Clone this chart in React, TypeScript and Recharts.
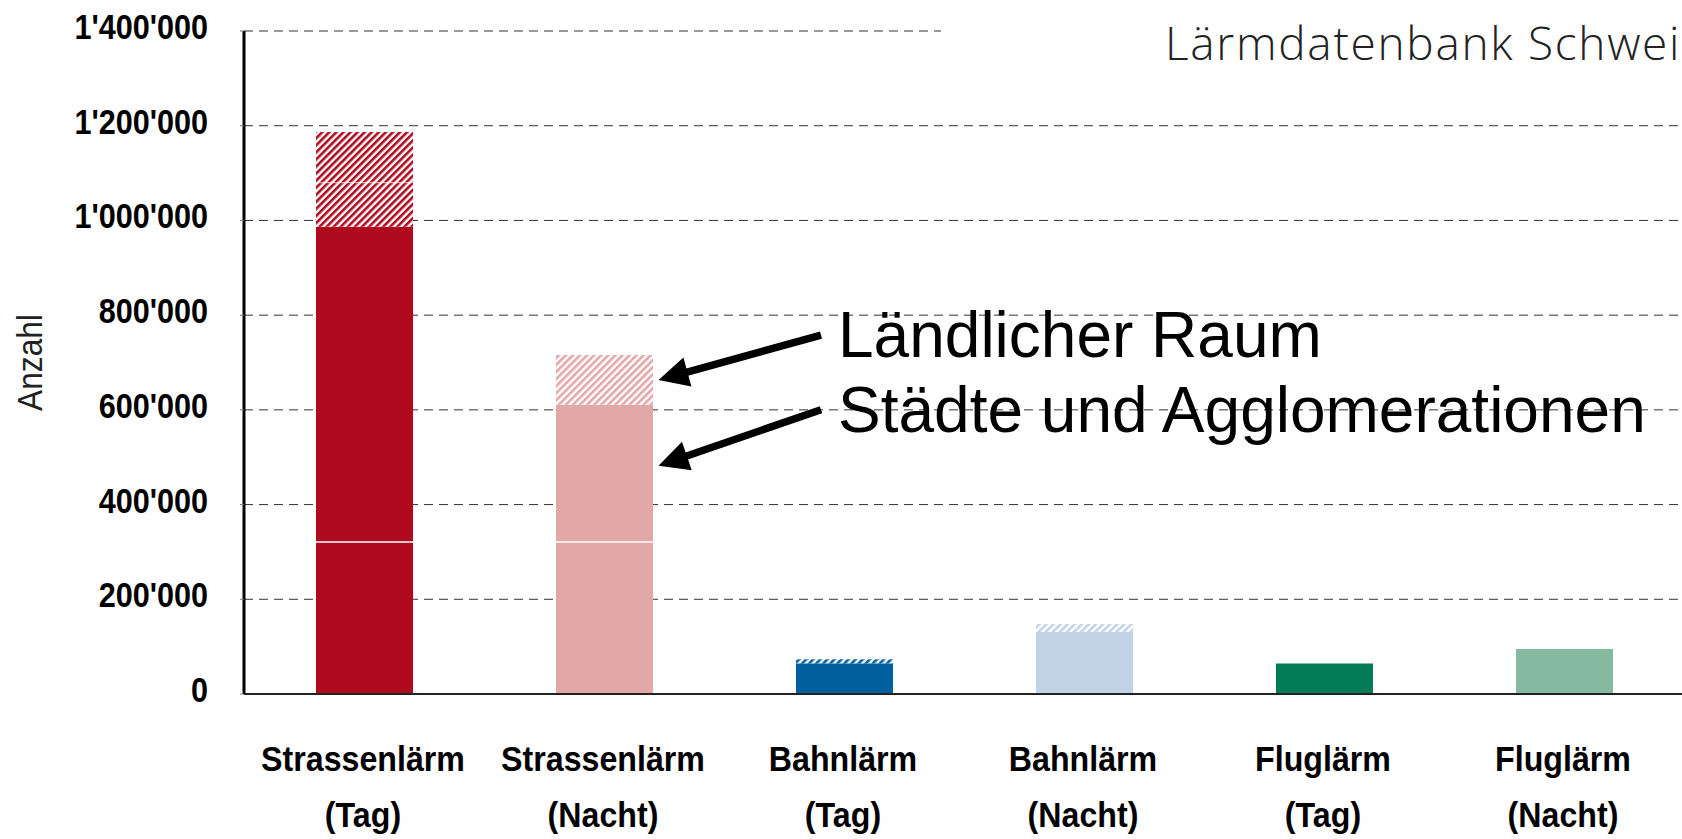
import React from 'react';
import { BarChart, Bar, XAxis, YAxis, CartesianGrid } from 'recharts';

// ---------- data ----------
const categories = [
  'Strassenlärm (Tag)',
  'Strassenlärm (Nacht)',
  'Bahnlärm (Tag)',
  'Bahnlärm (Nacht)',
  'Fluglärm (Tag)',
  'Fluglärm (Nacht)',
];
const labelLine1 = ['Strassenlärm', 'Strassenlärm', 'Bahnlärm', 'Bahnlärm', 'Fluglärm', 'Fluglärm'];
const labelLine2 = ['(Tag)', '(Nacht)', '(Tag)', '(Nacht)', '(Tag)', '(Nacht)'];

// Städte und Agglomerationen (solid), split in two parts
const staedteUnten = [321000, 321000, 64800, 130900, 64400, 95000];
const staedteOben = [665800, 289900, 0, 0, 0, 0];
// Ländlicher Raum (hatched), split in two parts
const laendlichUnten = [92900, 105000, 8500, 16900, 0, 0];
const laendlichOben = [107100, 0, 0, 0, 0, 0];

const yTicks = [0, 200000, 400000, 600000, 800000, 1000000, 1200000, 1400000];
const barColors = ['#AF0A1E', '#E1A8A7', '#00609E', '#C3D3E7', '#037B55', '#85BAA1'];

const titleText = 'Lärmdatenbank Schweiz';
const yAxisTitle = 'Anzahl';
const annotationLabels = ['Ländlicher Raum', 'Städte und Agglomerationen'];
const annotationTargets = [663000, 482000];

const data = categories.map((name, i) => ({
  name,
  staedteUnten: staedteUnten[i],
  staedteOben: staedteOben[i],
  laendlichUnten: laendlichUnten[i],
  laendlichOben: laendlichOben[i],
}));

// ---------- layout ----------
const CHART_W = 1700;
const CHART_H = 839;
const MARGIN = { top: 31, right: 16, bottom: 0, left: 0 };
const YAXIS_W = 244;
const XAXIS_H = 145;
const BAR_SIZE = 97;
const Y_MAX = 1400000;
const PLOT_LEFT = MARGIN.left + YAXIS_W;
const PLOT_TOP = MARGIN.top;
const PLOT_W = CHART_W - MARGIN.right - PLOT_LEFT;
const PLOT_H = CHART_H - MARGIN.top - MARGIN.bottom - XAXIS_H;
const BAND = PLOT_W / categories.length;
const yOf = (v: number) => PLOT_TOP + (1 - v / Y_MAX) * PLOT_H;

const ARIAL = "'Liberation Sans', Arial, sans-serif";

const fmt = (v: number) => String(v).replace(/\B(?=(\d{3})+(?!\d))/g, "'");

const YTick = (props: any) => {
  const { x, y, payload } = props;
  return (
    <text
      transform={`translate(${x}, ${y + 8}) scale(0.85, 1)`}
      textAnchor="end"
      fontFamily={ARIAL}
      fontWeight="bold"
      fontSize={36}
      fill="#000"
    >
      {fmt(payload.value)}
    </text>
  );
};

const XTick = (props: any) => {
  const { x, y, payload } = props;
  const i = categories.indexOf(payload.value);
  const common = {
    textAnchor: 'middle' as const,
    fontFamily: ARIAL,
    fontWeight: 'bold' as const,
    fontSize: 35,
    fill: '#000',
  };
  return (
    <g>
      <text transform={`translate(${x - 1}, ${y + 77}) scale(0.92, 1)`} {...common}>{labelLine1[i]}</text>
      <text transform={`translate(${x - 1}, ${y + 133}) scale(0.92, 1)`} {...common}>{labelLine2[i]}</text>
    </g>
  );
};

const catIndex = (props: any) => {
  const n = props?.payload?.name;
  const i = categories.indexOf(n);
  return i >= 0 ? i : props.index ?? 0;
};

const makeShape = (hatched: boolean, sepBottom: boolean, sepOpacity = 1) => (props: any) => {
  const { x, y, width, height } = props;
  if (!height || height <= 0) return <g />;
  const i = catIndex(props);
  const fill = hatched ? `url(#hatch${i})` : barColors[i];
  return (
    <g>
      <rect x={x} y={y} width={width} height={height} fill={fill} />
      {sepBottom && (
        <line x1={x} x2={x + width} y1={y + height} y2={y + height} stroke="#fff" strokeWidth={1.3} strokeOpacity={sepOpacity} />
      )}
    </g>
  );
};

const Arrow = ({ x1, y1, x2, y2 }: { x1: number; y1: number; x2: number; y2: number }) => {
  const dx = x2 - x1;
  const dy = y2 - y1;
  const len = Math.sqrt(dx * dx + dy * dy);
  const ux = dx / len;
  const uy = dy / len;
  const px = -uy;
  const py = ux;
  const L = 30;
  const W = 15;
  const bx = x2 - ux * L;
  const by = y2 - uy * L;
  return (
    <g>
      <line x1={x1} y1={y1} x2={bx + ux * 4} y2={by + uy * 4} stroke="#000" strokeWidth={7.5} />
      <polygon points={`${x2},${y2} ${bx + px * W},${by + py * W} ${bx - px * W},${by - py * W}`} fill="#000" />
    </g>
  );
};

export default function App() {
  const tipX = PLOT_LEFT + 1.5 * BAND + BAR_SIZE / 2 + 6;
  const tailX = 821;
  return (
    <div style={{ position: 'fixed', left: 0, top: 0, width: 1682, height: 839, overflow: 'hidden', background: '#fff' }}>
      <svg width={0} height={0} style={{ position: 'absolute' }}>
        <defs>
          {barColors.map((c, i) => (
            <pattern key={i} id={`hatch${i}`} patternUnits="userSpaceOnUse" width={5} height={5} patternTransform="rotate(45)">
              <rect width={5} height={5} fill="#fff" />
              <rect width={2.6} height={5} fill={c} />
            </pattern>
          ))}
        </defs>
      </svg>
      <div style={{ position: 'absolute', left: 0, top: 0 }}>
        <BarChart width={CHART_W} height={CHART_H} data={data} margin={MARGIN} barSize={BAR_SIZE}>
          <CartesianGrid vertical={false} horizontal stroke="#333" strokeDasharray="9 6" />
          <XAxis
            dataKey="name"
            type="category"
            interval={0}
            height={XAXIS_H}
            tickLine={false}
            tickSize={0}
            tickMargin={0}
            axisLine={{ stroke: '#222', strokeWidth: 2 }}
            tick={<XTick />}
          />
          <YAxis
            type="number"
            domain={[0, Y_MAX]}
            ticks={yTicks}
            interval={0}
            width={YAXIS_W}
            tickSize={4}
            tickMargin={32}
            tickLine={{ stroke: '#777' }}
            axisLine={{ stroke: '#000', strokeWidth: 3 }}
            tick={<YTick />}
          />
          <Bar dataKey="staedteUnten" stackId="s" isAnimationActive={false} shape={makeShape(false, false)} />
          <Bar dataKey="staedteOben" stackId="s" isAnimationActive={false} shape={makeShape(false, true)} />
          <Bar dataKey="laendlichUnten" stackId="s" isAnimationActive={false} shape={makeShape(true, false)} />
          <Bar dataKey="laendlichOben" stackId="s" isAnimationActive={false} shape={makeShape(true, true, 0.5)} />
        </BarChart>
      </div>
      <svg width={1682} height={839} style={{ position: 'absolute', left: 0, top: 0, pointerEvents: 'none' }}>
        <rect x={941} y={0} width={760} height={90} fill="#fff" />
        <text x={1165} y={60} fontFamily="'Open Sans', 'Noto Sans', sans-serif" fontWeight={300} fontSize={46} fill="#222" style={{ letterSpacing: '1.7px' }}>
          {titleText}
        </text>
        <text
          transform={`translate(42, ${PLOT_TOP + PLOT_H / 2}) rotate(-90) scale(0.88, 1)`}
          textAnchor="middle"
          fontFamily={ARIAL}
          fontSize={36}
          fill="#222"
        >
          {yAxisTitle}
        </text>
        <text x={838} y={357} fontFamily={ARIAL} fontSize={64} fill="#000">{annotationLabels[0]}</text>
        <text x={838} y={432} fontFamily={ARIAL} fontSize={64} fill="#000">{annotationLabels[1]}</text>
        <Arrow x1={tailX} y1={yOf(annotationTargets[0]) - 45} x2={tipX} y2={yOf(annotationTargets[0])} />
        <Arrow x1={tailX} y1={yOf(annotationTargets[1]) - 56} x2={tipX} y2={yOf(annotationTargets[1])} />
      </svg>
    </div>
  );
}
